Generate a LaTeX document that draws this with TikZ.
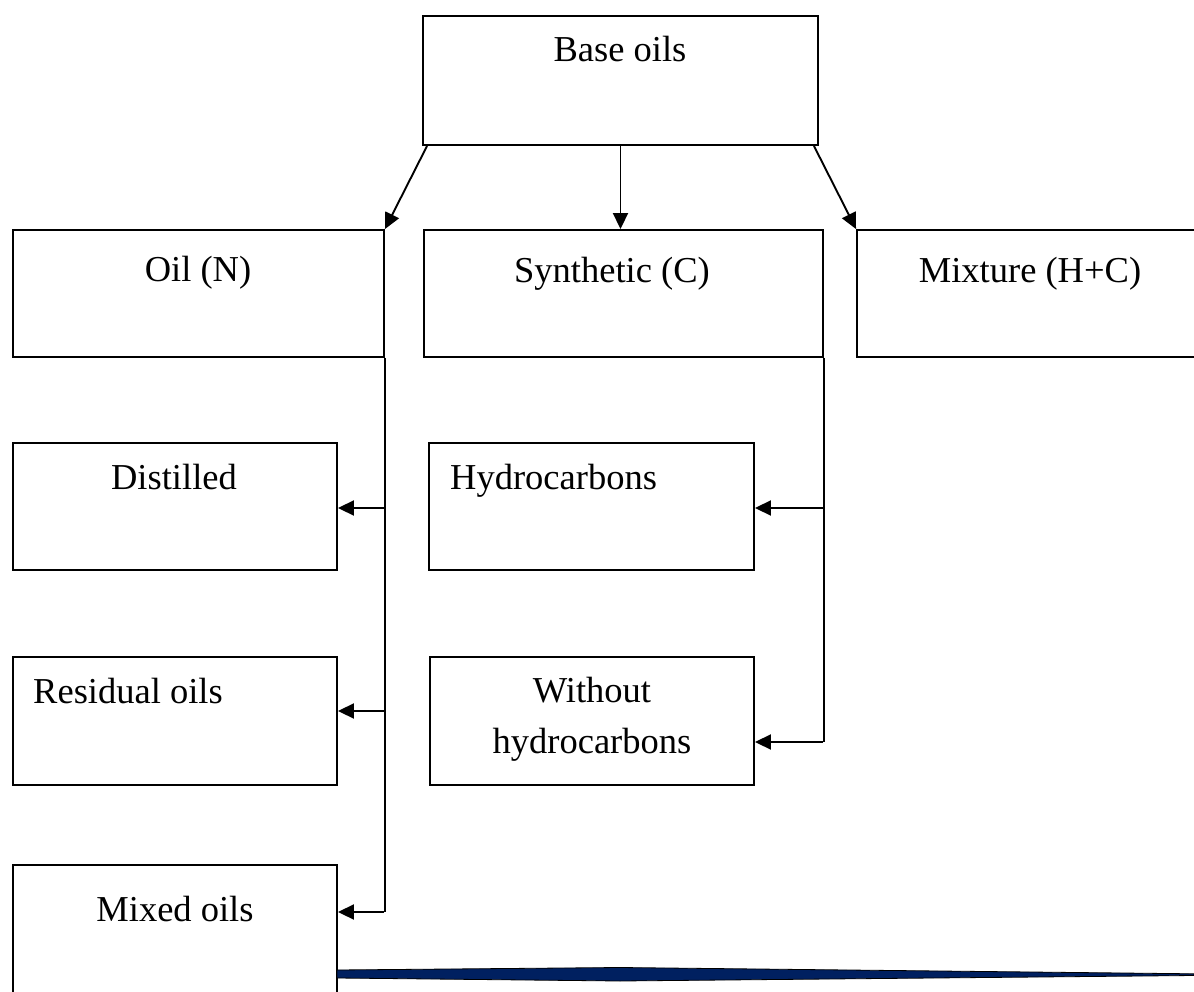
\documentclass[tikz,border=0pt]{standalone}
\usepackage{fontspec}
\setmainfont{Liberation Serif}
\usetikzlibrary{arrows.meta,calc}
\definecolor{navyband}{RGB}{0,32,96}
\begin{document}
\begin{tikzpicture}[x=1pt,y=-1pt,
  box/.style={draw, line width=1.9pt, rectangle, inner sep=0pt},
  lbl/.style={font=\fontsize{36.5}{44}\selectfont, inner sep=0pt, anchor=base},
  lblw/.style={font=\fontsize{36.5}{44}\selectfont, inner sep=0pt, anchor=base west},
  arr/.style={line width=1.9pt, -{Triangle[length=16pt,width=15pt]}},
  ln/.style={line width=1.9pt}]
\useasboundingbox (0,0) rectangle (1194,992);
\clip (0,0) rectangle (1194,992);
% boxes
\node[box, minimum width=395pt, minimum height=129pt] (base) at (620.5,80.5) {};
\node[box, minimum width=371pt, minimum height=127pt] (oil) at (198.5,293.5) {};
\node[box, minimum width=399pt, minimum height=127pt] (syn) at (623.5,293.5) {};
\node[box, minimum width=348pt, minimum height=127pt] (mix) at (1031,293.5) {};
\node[box, minimum width=324pt, minimum height=127pt] (dist) at (175,506.5) {};
\node[box, minimum width=325pt, minimum height=127pt] (hyd) at (591.5,506.5) {};
\node[box, minimum width=324pt, minimum height=128pt] (res) at (175,721) {};
\node[box, minimum width=324pt, minimum height=128pt] (woh) at (592,721) {};
\node[box, minimum width=324pt, minimum height=140pt] (mixed) at (175,935) {};
% labels
\node[lbl] (tbase) at (620,62) {Base oils};
\node[lbl] (toil) at (198,282) {Oil (N)};
\node[lbl] (tsyn) at (612,283) {Synthetic (C)};
\node[lbl] (tmix) at (1030,283) {Mixture (H+C)};
\node[lbl] (tdist) at (174,489) {Distilled};
\node[lblw] (thyd) at (450,489) {Hydrocarbons};
\node[lblw] (tres) at (33,703) {Residual oils};
\node[lbl] (twoh1) at (592,702) {Without};
\node[lbl] (twoh2) at (592,753) {hydrocarbons};
\node[lbl] (tmixed) at (175,921) {Mixed oils};
% connectors from base
\draw[arr] ($(base.south west)+(5,0)$) -- (oil.north east);
\draw[arr] (base.south) -- (base.south |- syn.north);
\draw[arr] ($(base.south east)+(-5,0)$) -- (mix.north west);
% trunk from Oil (N)
\coordinate (td) at (384,508);
\coordinate (tr) at (384,711);
\coordinate (tm) at (384,912);
\draw[ln] (oil.south east) -- (oil.south east |- tm);
\draw[arr] (td) -- (td -| dist.east);
\draw[arr] (tr) -- (tr -| res.east);
\draw[arr] (tm) -- (tm -| mixed.east);
% trunk from Synthetic (C)
\coordinate (th) at (823,508);
\coordinate (tw) at (823,742);
\draw[ln] (syn.south east) -- (syn.south east |- tw);
\draw[arr] (th) -- (th -| hyd.east);
\draw[arr] (tw) -- (tw -| woh.east);
% blue band
\draw[black, line width=0.8pt, fill=navyband] (337,970) -- (620,967.5) -- (1194,973.8) -- (1194,975.5) -- (620,981) -- (337,978) -- cycle;
\end{tikzpicture}
\end{document}
